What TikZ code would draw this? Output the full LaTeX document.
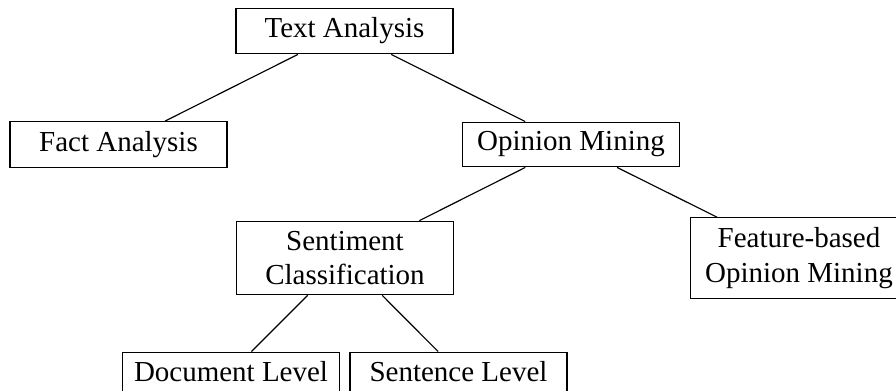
\documentclass[tikz,border=0pt]{standalone}
\usepackage{fontspec}
\setmainfont{Liberation Serif}
\begin{document}
\begin{tikzpicture}[x=0.345pt,y=-0.345pt,
  box/.style={draw, line width=0.4pt, align=center, minimum width=74.9pt,
              font=\fontsize{10}{12}\selectfont},
  link/.style={draw, line width=0.4pt}]
\useasboundingbox (0,0) rectangle (896,391);
% tree levels
\node[box] (ta) at (344.5,31) {Text Analysis};
\node[box] (fa) at (118.5,144.5) {Fact Analysis};
\node[box] (om) at (571,144.5) {Opinion Mining};
\node[box] (sc) at (345,258) {Sentiment\\Classification};
\node[box] (fb) at (799,258) {Feature-based\\Opinion Mining};
\node[box] (dl) at (231,372) {Document Level};
\node[box] (sl) at (458.5,372) {Sentence Level};
% parent-child links
\draw[link] (ta) -- (fa);
\draw[link] (ta) -- (om);
\draw[link] (om) -- (sc);
\draw[link] (om) -- (fb);
\draw[link] (sc) -- (dl);
\draw[link] (sc) -- (sl);
\end{tikzpicture}
\end{document}
